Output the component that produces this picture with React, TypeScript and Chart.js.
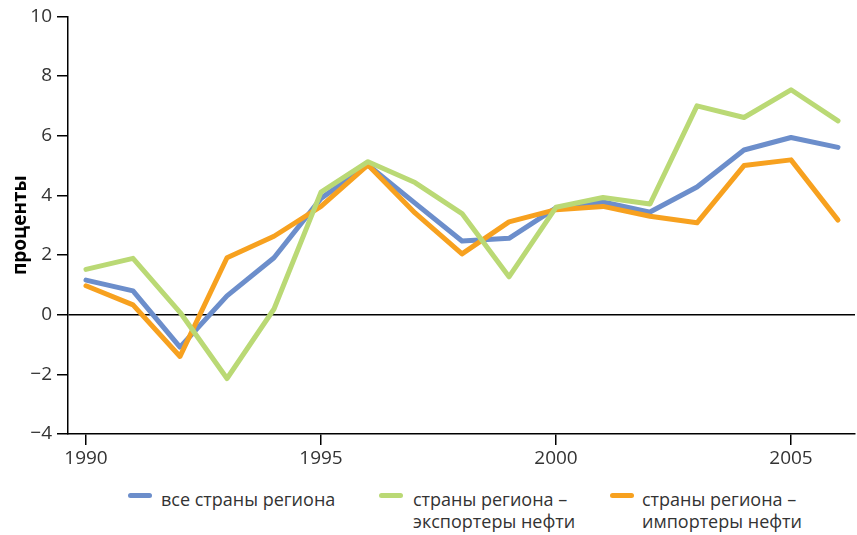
import React, { useEffect, useRef } from "react";
import { Chart, registerables } from "chart.js";

Chart.register(...registerables);

const YEARS = [1990, 1991, 1992, 1993, 1994, 1995, 1996, 1997, 1998, 1999, 2000, 2001, 2002, 2003, 2004, 2005, 2006];
const ALL_REGION = [1.16, 0.8, -1.09, 0.63, 1.91, 3.9, 5.02, 3.74, 2.47, 2.56, 3.58, 3.78, 3.44, 4.28, 5.52, 5.94, 5.61];
const OIL_EXPORTERS = [1.52, 1.89, 0.08, -2.14, 0.19, 4.11, 5.13, 4.43, 3.39, 1.27, 3.6, 3.93, 3.71, 7.0, 6.61, 7.54, 6.5];
const OIL_IMPORTERS = [0.97, 0.33, -1.4, 1.91, 2.63, 3.63, 5.02, 3.41, 2.04, 3.11, 3.52, 3.63, 3.3, 3.08, 5.0, 5.19, 3.17];

const X_TICKS = [1990, 1995, 2000, 2005];
const Y_TICKS = [-4, -2, 0, 2, 4, 6, 8, 10];

const LABEL_ALL = "все страны региона";
const LABEL_EXP = ["страны региона –", "экспортеры нефти"];
const LABEL_IMP = ["страны региона –", "импортеры нефти"];
const Y_TITLE = "проценты";

const BLUE = "#6C8ECB";
const GREEN = "#BAD975";
const ORANGE = "#F7A11F";

const FONT = "'Open Sans', 'Noto Sans', sans-serif";
const TEXT = "#333333";

export default function App() {
  const ref = useRef<HTMLCanvasElement | null>(null);

  useEffect(() => {
    if (!ref.current) return;
    const mk = (arr: number[]) => YEARS.map((y, i) => ({ x: y, y: arr[i] }));
    const chart = new Chart(ref.current, {
      type: "line",
      data: {
        datasets: [
          { label: LABEL_EXP.join(" "), data: mk(OIL_EXPORTERS), borderColor: GREEN, order: 0 },
          { label: LABEL_IMP.join(" "), data: mk(OIL_IMPORTERS), borderColor: ORANGE, order: 1 },
          { label: LABEL_ALL, data: mk(ALL_REGION), borderColor: BLUE, order: 2 },
        ].map((d) => ({
          ...d,
          borderWidth: 5,
          pointRadius: 0,
          tension: 0,
          fill: false,
          borderCapStyle: "round" as const,
          borderJoinStyle: "round" as const,
        })),
      },
      options: {
        animation: false,
        responsive: false,
        layout: { padding: { top: 14, right: 2, left: 0, bottom: 0 } },
        plugins: { legend: { display: false }, tooltip: { enabled: false } },
        scales: {
          x: {
            type: "linear",
            min: 1990 - 18 / 47,
            max: 1990 - 18 / 47 + 787 / 47,
            afterBuildTicks: (s: any) => {
              s.ticks = X_TICKS.map((v) => ({ value: v }));
            },
            afterFit: (s: any) => {
              s.height = 36;
            },
            ticks: {
              callback: (v: any) => String(v),
              font: { family: FONT, size: 19 },
              color: TEXT,
              padding: 2,
              maxRotation: 0,
              autoSkip: false,
            },
            grid: { drawOnChartArea: false, tickLength: 11, color: "#000", lineWidth: 1.5 },
            border: { color: "#000", width: 1.5 },
          },
          y: {
            min: -4,
            max: 10,
            afterBuildTicks: (s: any) => {
              s.ticks = Y_TICKS.map((v) => ({ value: v }));
            },
            afterFit: (s: any) => {
              s.width = 68;
            },
            ticks: {
              callback: (v: any) => (Number(v) < 0 ? "−" + Math.abs(Number(v)) : String(v)),
              font: { family: FONT, size: 19 },
              color: TEXT,
              padding: 5,
            },
            grid: {
              color: (ctx: any) => (ctx.tick && ctx.tick.value === 0 ? "#000" : "rgba(0,0,0,0)"),
              tickColor: "#000",
              tickLength: 11,
              lineWidth: 1.5,
            },
            border: { color: "#000", width: 1.5 },
            title: {
              display: true,
              text: Y_TITLE,
              font: { family: FONT, size: 19, weight: "bold" },
              color: "#000",
              padding: { top: 9, bottom: 0 },
            },
          },
        },
      },
    } as any);
    return () => chart.destroy();
  }, []);

  const textStyle: React.CSSProperties = {
    position: "absolute",
    fontFamily: FONT,
    fontSize: 18,
    lineHeight: "22px",
    color: TEXT,
    whiteSpace: "nowrap",
  };
  const marker = (left: number, color: string): React.CSSProperties => ({
    position: "absolute",
    left,
    top: 493,
    width: 24,
    height: 5,
    borderRadius: 3,
    background: color,
  });

  return (
    <div style={{ position: "absolute", left: 0, top: 0, width: 857, height: 535, background: "#fff", overflow: "hidden" }}>
      <canvas ref={ref} width={857} height={470} style={{ display: "block", width: 857, height: 470 }} />
      <div style={marker(128, BLUE)} />
      <div style={{ ...textStyle, left: 161, top: 488 }}>{LABEL_ALL}</div>
      <div style={marker(379, GREEN)} />
      <div style={{ ...textStyle, left: 413, top: 488 }}>
        {LABEL_EXP[0]}
        <br />
        {LABEL_EXP[1]}
      </div>
      <div style={marker(610, ORANGE)} />
      <div style={{ ...textStyle, left: 642, top: 488 }}>
        {LABEL_IMP[0]}
        <br />
        {LABEL_IMP[1]}
      </div>
    </div>
  );
}
